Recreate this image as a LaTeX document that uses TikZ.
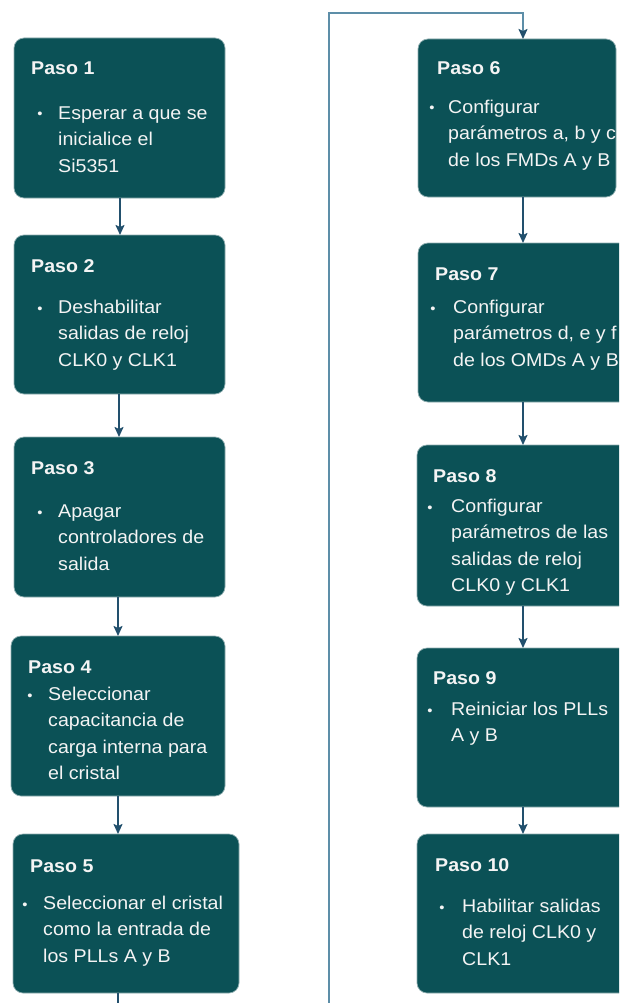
\documentclass[tikz,border=0pt]{standalone}
\usepackage{fontspec}
\setmainfont[FakeStretch=1.06]{Liberation Sans}
\usetikzlibrary{calc,arrows.meta}
\definecolor{boxfill}{HTML}{0B5156}
\definecolor{boxedge}{HTML}{8FAEB0}
\definecolor{linkdark}{HTML}{22506D}
\definecolor{linklight}{HTML}{5D8EA8}
\definecolor{boxtext}{HTML}{F4F4F4}
% height of the strut that opens every body text (0.7 x 26.5pt)
\newcommand{\bodyrise}{18.55}
\begin{document}
\begin{tikzpicture}[x=1pt,y=-1pt,
  stepbox/.style={draw=boxedge, line width=0.7pt, fill=boxfill, rounded corners=10pt,
    inner sep=0pt, outer sep=0pt, anchor=north west},
  steptitle/.style={text=boxtext, font={\fontsize{18.5}{26.5}\selectfont\bfseries},
    anchor=base west, inner sep=0pt},
  stepbody/.style={text=boxtext, font={\fontsize{18.5}{26.5}\selectfont},
    align=left, anchor=north west, inner sep=0pt},
  stepdot/.style={text=boxtext, font={\fontsize{14}{16}\selectfont}, anchor=base, inner sep=0pt},
  link/.style={draw=linkdark, line width=1.8pt, -{Stealth[length=10pt,width=9pt,inset=2pt]}},
  looplink/.style={draw=linklight, line width=1.8pt,
    -{Stealth[length=10pt,width=9pt,inset=2pt,color=linkdark]}},
]
\useasboundingbox (0,0) rectangle (619,1003);
\clip (0,0) rectangle (619,1003);

% ---- left column ----
\node[stepbox, minimum width=211pt, minimum height=160pt] (b1) at (14,38) {};
\node[steptitle] (t1) at ($(b1.north west)+(17,37)$) {Paso 1};
\node[stepdot] (d1) at ($(b1.north west)+(26,81)$) {•};
\node[stepbody] (x1) at ($(b1.north west)+(44,81-\bodyrise)$) {\strut Esperar a que se\\inicialice el\\Si5351};

\node[stepbox, minimum width=211pt, minimum height=159pt] (b2) at (14,235) {};
\node[steptitle] (t2) at ($(b2.north west)+(17,37)$) {Paso 2};
\node[stepdot] (d2) at ($(b2.north west)+(26,78)$) {•};
\node[stepbody] (x2) at ($(b2.north west)+(44,78-\bodyrise)$) {\strut Deshabilitar\\salidas de reloj\\CLK0 y CLK1};

\node[stepbox, minimum width=211pt, minimum height=160pt] (b3) at (14,437) {};
\node[steptitle] (t3) at ($(b3.north west)+(17,37)$) {Paso 3};
\node[stepdot] (d3) at ($(b3.north west)+(26,80)$) {•};
\node[stepbody] (x3) at ($(b3.north west)+(44,80-\bodyrise)$) {\strut Apagar\\controladores de\\salida};

\node[stepbox, minimum width=214pt, minimum height=160pt] (b4) at (11,636) {};
\node[steptitle] (t4) at ($(b4.north west)+(17,37)$) {Paso 4};
\node[stepdot] (d4) at ($(b4.north west)+(19,64)$) {•};
\node[stepbody] (x4) at ($(b4.north west)+(37,64-\bodyrise)$) {\strut Seleccionar\\capacitancia de\\carga interna para\\el cristal};

\node[stepbox, minimum width=226pt, minimum height=159pt] (b5) at (13,834) {};
\node[steptitle] (t5) at ($(b5.north west)+(17,38)$) {Paso 5};
\node[stepdot] (d5) at ($(b5.north west)+(12,75)$) {•};
\node[stepbody] (x5) at ($(b5.north west)+(30,75-\bodyrise)$) {\strut Seleccionar el cristal\\como la entrada de\\los PLLs A y B};

% ---- right column ----
\node[stepbox, minimum width=198pt, minimum height=158pt] (b6) at (418,39) {};
\node[steptitle] (t6) at ($(b6.north west)+(19,36)$) {Paso 6};
\node[stepdot] (d6) at ($(b6.north west)+(14,74)$) {•};
\node[stepbody] (x6) at ($(b6.north west)+(30,74-\bodyrise)$) {\strut Configurar\\parámetros a, b y c\\de los FMDs A y B};

\node[stepbox, minimum width=212pt, minimum height=159pt] (b7) at (418,243) {};
\node[steptitle] (t7) at ($(b7.north west)+(17,37)$) {Paso 7};
\node[stepdot] (d7) at ($(b7.north west)+(15,70)$) {•};
\node[stepbody] (x7) at ($(b7.north west)+(35,70-\bodyrise)$) {\strut Configurar\\parámetros d, e y f\\de los OMDs A y B};

\node[stepbox, minimum width=213pt, minimum height=161pt] (b8) at (417,445) {};
\node[steptitle] (t8) at ($(b8.north west)+(16,37)$) {Paso 8};
\node[stepdot] (d8) at ($(b8.north west)+(13,67)$) {•};
\node[stepbody] (x8) at ($(b8.north west)+(34,67-\bodyrise)$) {\strut Configurar\\parámetros de las\\salidas de reloj\\CLK0 y CLK1};

\node[stepbox, minimum width=213pt, minimum height=159pt] (b9) at (417,648) {};
\node[steptitle] (t9) at ($(b9.north west)+(16,36)$) {Paso 9};
\node[stepdot] (d9) at ($(b9.north west)+(13,67)$) {•};
\node[stepbody] (x9) at ($(b9.north west)+(34,67-\bodyrise)$) {\strut Reiniciar los PLLs\\A y B};

\node[stepbox, minimum width=213pt, minimum height=159pt] (b10) at (417,834) {};
\node[steptitle] (t10) at ($(b10.north west)+(18,37)$) {Paso 10};
\node[stepdot] (d10) at ($(b10.north west)+(25,78)$) {•};
\node[stepbody] (x10) at ($(b10.north west)+(45,78-\bodyrise)$) {\strut Habilitar salidas\\de reloj CLK0 y\\CLK1};

% ---- connector columns ----
\coordinate (c12) at (120,0);
\coordinate (c23) at (119,0);
\coordinate (c34) at (118,0);
\coordinate (c45) at (118,0);
\coordinate (rx) at (523,0);
\coordinate (lb) at (329,1015);
\coordinate (turn) at (329,13);

\draw[link] (b1.south -| c12) -- (b2.north -| c12);
\draw[link] (b2.south -| c23) -- (b3.north -| c23);
\draw[link] (b3.south -| c34) -- (b4.north -| c34);
\draw[link] (b4.south -| c45) -- (b5.north -| c45);

\draw[link] (b6.south -| rx) -- (b7.north -| rx);
\draw[link] (b7.south -| rx) -- (b8.north -| rx);
\draw[link] (b8.south -| rx) -- (b9.north -| rx);
\draw[link] (b9.south -| rx) -- (b10.north -| rx);

% return path from step 5 to step 6
\draw[draw=linkdark, line width=1.8pt] (b5.south -| c45) -- (c45 |- lb);
\draw[looplink] (c45 |- lb) -- (lb) -- (turn) -| (b6.north -| rx);
\end{tikzpicture}
\end{document}
